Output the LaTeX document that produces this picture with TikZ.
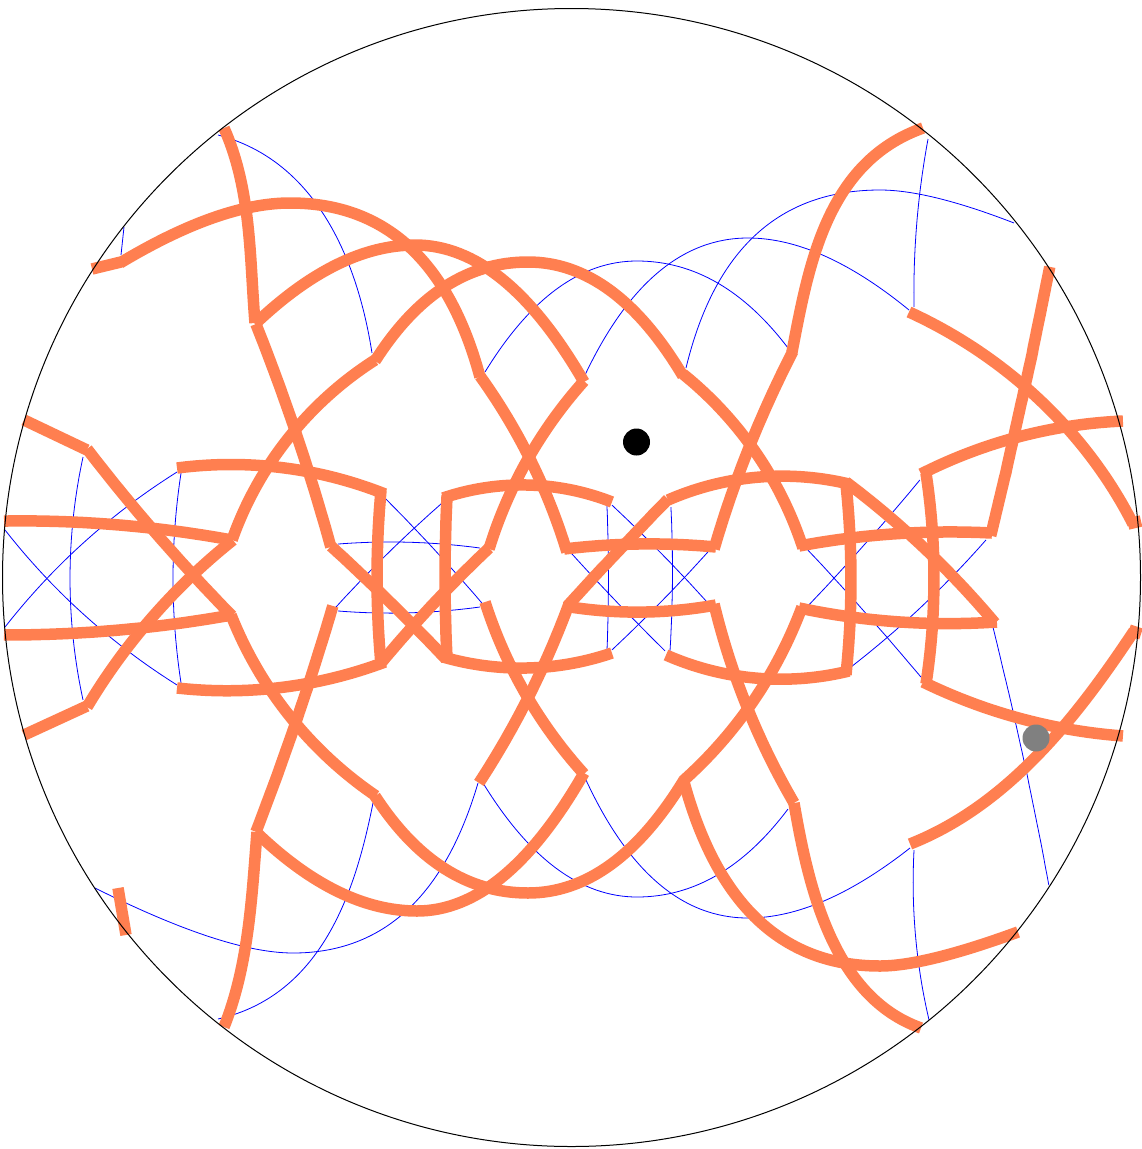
\documentclass[tikz,border=0pt]{standalone}
\usetikzlibrary{positioning}
\definecolor{arcCoral}{HTML}{FF7F50}
\definecolor{arcBlue}{HTML}{0000FF}
% circular arc through three points, given in pixels
\newcommand{\threearc}[7]{%
  \pgfmathsetmacro{\bxx}{(#4-#2)/100}\pgfmathsetmacro{\byy}{(#5-#3)/100}%
  \pgfmathsetmacro{\cxx}{(#6-#2)/100}\pgfmathsetmacro{\cyy}{(#7-#3)/100}%
  \pgfmathsetmacro{\nb}{\bxx*\bxx+\byy*\byy}\pgfmathsetmacro{\nc}{\cxx*\cxx+\cyy*\cyy}%
  \pgfmathsetmacro{\dd}{2*(\bxx*\cyy-\byy*\cxx)}%
  \pgfmathsetmacro{\ux}{(\cyy*\nb-\byy*\nc)/\dd}\pgfmathsetmacro{\uy}{(\bxx*\nc-\cxx*\nb)/\dd}%
  \pgfmathsetmacro{\rr}{sqrt(\ux*\ux+\uy*\uy)}%
  \pgfmathsetmacro{\aa}{atan2(-\uy,-\ux)}%
  \pgfmathsetmacro{\ab}{mod(atan2(\byy-\uy,\bxx-\ux)-\aa+720,360)}%
  \pgfmathsetmacro{\ac}{mod(atan2(\cyy-\uy,\cxx-\ux)-\aa+720,360)}%
  \pgfmathsetmacro{\sw}{\ab>\ac ? \ac-360 : \ac}%
  \draw[#1] plot[domain=0:1, samples=48] ({#2+100*(\ux+\rr*cos(\aa+\x*\sw))},{#3+100*(\uy+\rr*sin(\aa+\x*\sw))});}
% one cubic through four points, given in pixels
\newcommand{\fourarc}[9]{%
  \pgfmathsetmacro{\la}{veclen(#4-#2,#5-#3)}\pgfmathsetmacro{\lb}{veclen(#6-#4,#7-#5)}%
  \pgfmathsetmacro{\lc}{veclen(#8-#6,#9-#7)}%
  \pgfmathsetmacro{\ta}{\la/(\la+\lb+\lc)}\pgfmathsetmacro{\tb}{(\la+\lb)/(\la+\lb+\lc)}%
  \pgfmathsetmacro{\pa}{3*(1-\ta)^2*\ta}\pgfmathsetmacro{\qa}{3*(1-\ta)*\ta^2}%
  \pgfmathsetmacro{\pb}{3*(1-\tb)^2*\tb}\pgfmathsetmacro{\qb}{3*(1-\tb)*\tb^2}%
  \pgfmathsetmacro{\sa}{(1-\ta)^3}\pgfmathsetmacro{\ea}{\ta^3}%
  \pgfmathsetmacro{\sb}{(1-\tb)^3}\pgfmathsetmacro{\eb}{\tb^3}%
  \pgfmathsetmacro{\det}{\pa*\qb-\qa*\pb}%
  \pgfmathsetmacro{\rax}{#4-\sa*#2-\ea*#8}\pgfmathsetmacro{\ray}{#5-\sa*#3-\ea*#9}%
  \pgfmathsetmacro{\rbx}{#6-\sb*#2-\eb*#8}\pgfmathsetmacro{\rby}{#7-\sb*#3-\eb*#9}%
  \draw[#1] (#2,#3) .. controls ({(\rax*\qb-\rbx*\qa)/\det},{(\ray*\qb-\rby*\qa)/\det})
    and ({(\pa*\rbx-\pb*\rax)/\det},{(\pa*\rby-\pb*\ray)/\det}) .. (#8,#9);}
% two parabolic pieces meeting at a level top or bottom point
\newcommand{\apexarc}[9]{%
  \draw[#1] (#2,#3) .. controls ({#2+(#4-#2)*2/3},{#3+(#6-#3)*2/3}) and ({#5+(#4-#5)*2/3},#6) .. (#5,#6)
    .. controls ({#5+(#7-#5)*2/3},#6) and ({#8+(#7-#8)*2/3},{#9+(#6-#9)*2/3}) .. (#8,#9);}

\begin{document}
\begin{tikzpicture}[x=1pt, y=-1pt,
    tile/.style={draw=arcBlue, line width=0.8pt},
    path/.style={draw=arcCoral, line width=11.5pt, line join=round},
    marker/.style={circle, inner sep=0pt, minimum size=27pt}]
  \useasboundingbox (0,0) rectangle (1141,1149);

  % thin arcs
  \foreach \xa/\ya/\ta/\xm/\ym/\tb/\xb/\yb in {
      485/372/553/637/261/722/788/348, 585/375/650/748/238/821/909/310,
      686/368/729/880/190/929/1014/223, 586/780/650/748/918/821/910/848,
      483/783/553/637/897/722/788/809, 95/888/225/293/953/428/478/783}
    {\apexarc{tile}{\xa}{\ya}{\ta}{\xm}{\ym}{\tb}{\xb}{\yb}}
  \foreach \xa/\ya/\xb/\yb/\xc/\yc/\xd/\yd in {
      218/135/312/198/345/255/372/353, 218/1019/317/952/350/888/373/803}
    {\fourarc{tile}{\xa}{\ya}{\xb}{\yb}{\xc}{\yc}{\xd}{\yd}}
  \foreach \xa/\ya/\xb/\yb/\xc/\yc in {
      928/139/917/220/914/307,
      5/627/98/530/177/472, 5/530/98/627/177/685, 83/457/70/578/83/700,
      181/473/173/578/181/683, 338/544/398/542/480/548, 338/611/403/613/480/607,
      335/608/383/558/442/503, 385/498/433/548/482/603,
      607/505/608.5/578/607/652, 671/507/672.5/578/670/652,
      612/505/661/553/708/603, 570/552/619.5/605/665/651, 612/650/661/602/708/552,
      808/550/864/611/921/677, 808/606/866/543/920/480, 851/667/918/610/986/540,
      993/627/1024/760/1049/885, 914/850/918/959/929/1020}
    {\threearc{tile}{\xa}{\ya}{\xb}{\yb}{\xc}{\yc}}
  \draw[tile] (124,227) -- (121,255);

  % thick arcs
  \foreach \xa/\ya/\ta/\xm/\ym/\tb/\xb/\yb in {
      120/263/220/290/203/433/480/377, 255/324/338/415/245/505/584/382,
      375/361/438/528/262/615/683/376, 375/796/438/528/893/615/684/780,
      256/832/338/417/911/505/584/773, 684/782/734/880/966/925/1018/932}
    {\apexarc{path}{\xa}{\ya}{\ta}{\xm}{\ym}{\tb}{\xb}{\yb}}
  \foreach \xa/\ya/\xb/\yb/\xc/\yc/\xd/\yd in {
      224/128/245/203/251/262/255/323, 792/352/808/277/841/195/923/128,
      909/312/974/348/1067/428/1133/524, 1134/631/1063/727/979/806/910/844,
      794/803/817/902/878/1003/921/1028, 257/832/250/913/237/987/224/1027}
    {\fourarc{path}{\xa}{\ya}{\xb}{\yb}{\xc}{\yc}{\xd}{\yd}}
  \foreach \xa/\ya/\xb/\yb/\xc/\yc in {
      256/324/295/430/331/547, 375/360/295/430/232/540, 231/615/297/725/376/796,
      87/449/147/523/232/616, 87/707/143/628/233/540,
      4/521/120/525/232/540, 4/635/120/630/232/615,
      177/468/285/468/385/494, 177/688/285/687/385/662, 381/490/377/577/381/665,
      333/606/295/725/256/832,
      331/546/388/600/446/659, 381/663/435/602/489/548, 447/495/445/577/447/660,
      443/498/527/485/612/502, 443/657/527/668/612/653, 564/549/637/544/716/547,
      489/549/529/457/584/381, 480/376/529/457/567/552,
      714/549/750/445/793/351, 683/374/749/443/803/548,
      569/604/528/698/479/783, 485/602/528/698/584/774,
      714/604/747/707/794/803, 802/607/747/710/683/781,
      668/499/620/549/567/606, 564/606/647/612/716/605,
      1050/267/1026/383/991/536,
      921/474/1018/437/1123/421, 799/546/908/533/992/533, 799/608/900/622/997/622,
      846/482/920/544/995/623, 668/500/760/477/849/484, 846/484/851/580/846/675,
      666/655/770/679/849/671, 926/473/934/580/926/684, 923/682/1008/715/1123/736}
    {\threearc{path}{\xa}{\ya}{\xb}{\yb}{\xc}{\yc}}
  \draw[path] (92,269) -- (121,262);
  \draw[path] (24,420) -- (87,450);
  \draw[path] (24,735) -- (87,706);
  \draw[path] (1128,524) -- (1141,521);
  \draw[path] (1129,630) -- (1141,634);
  \draw[path] (118,888) -- (126,935);

  \draw[black, line width=1pt] (571.5,577.5) circle[radius=569pt];
  \node[marker, fill=black] (base) at (636.5,442) {};
  \node[marker, fill=gray] (probe) at (1036,738) {};
\end{tikzpicture}
\end{document}
